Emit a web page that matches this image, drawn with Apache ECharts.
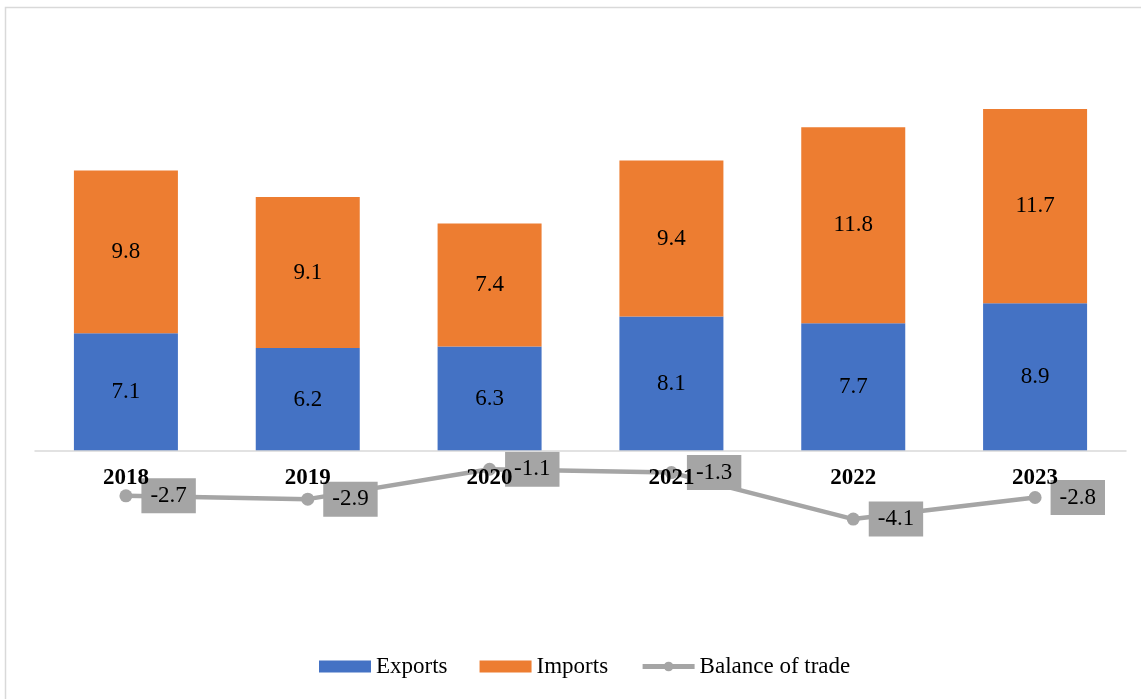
<!DOCTYPE html>
<html><head><meta charset="utf-8">
<script src="https://cdn.jsdelivr.net/npm/echarts@6/dist/echarts.min.js"></script>
<style>html,body{margin:0;padding:0;background:#fff}#c{width:1141px;height:699px}</style>
</head><body><div id="c"></div>
<script>
const categories = ['2018','2019','2020','2021','2022','2023'];
const exportsData = [7.1, 6.2, 6.3, 8.1, 7.7, 8.9];
const importsData = [9.8, 9.1, 7.4, 9.4, 11.8, 11.7];
const balanceData = [-2.7, -2.9, -1.1, -1.3, -4.1, -2.8];

const font = '"Liberation Serif", "Times New Roman", serif';
const chart = echarts.init(document.getElementById('c'));
chart.setOption({
  animation: false,
  textStyle: { fontFamily: font },
  graphic: [{
    type: 'rect', z: -10, silent: true,
    shape: { x: 5.5, y: 7.5, width: 1160, height: 720 },
    style: { fill: 'none', stroke: '#d9d9d9', lineWidth: 1.5 }
  }],
  grid: { left: 35, right: 15, top: 85.8, height: 498, containLabel: false },
  legend: {
    top: 650, left: 314, itemGap: 32, itemWidth: 52, itemHeight: 12,
    textStyle: { fontFamily: font, fontSize: 23, color: '#000' },
    data: [
      { name: 'Exports', icon: 'rect' },
      { name: 'Imports', icon: 'rect' },
      { name: 'Balance of trade', lineStyle: { width: 5 }, itemStyle: { color: '#a5a5a5' } }
    ]
  },
  xAxis: {
    type: 'category', data: categories, z: 10,
    offset: -132.8,
    axisLine: { onZero: false, lineStyle: { color: '#d9d9d9', width: 1.5 } },
    axisTick: { show: false },
    axisLabel: { color: '#000', fontWeight: 'bold', fontSize: 23, fontFamily: font, margin: 16 }
  },
  yAxis: {
    type: 'value', min: -8, max: 22, interval: 2,
    show: false, splitLine: { show: false }
  },
  series: [
    {
      name: 'Exports', type: 'bar', stack: 't', data: exportsData,
      barWidth: 104, itemStyle: { color: '#4472c4' },
      label: { show: true, position: 'inside', color: '#000', fontSize: 23, fontFamily: font }
    },
    {
      name: 'Imports', type: 'bar', stack: 't', data: importsData,
      barWidth: 104, itemStyle: { color: '#ed7d31' },
      label: { show: true, position: 'inside', color: '#000', fontSize: 23, fontFamily: font }
    },
    {
      name: 'Balance of trade', type: 'line', data: balanceData,
      symbol: 'circle', symbolSize: 13,
      lineStyle: { color: '#a5a5a5', width: 4.5 },
      itemStyle: { color: '#a5a5a5' },
      label: {
        show: true, position: 'right', distance: 9,
        backgroundColor: '#a5a5a5', color: '#000', fontSize: 23, fontFamily: font,
        padding: [7, 9, 5, 9]
      }
    }
  ]
});
</script></body></html>
